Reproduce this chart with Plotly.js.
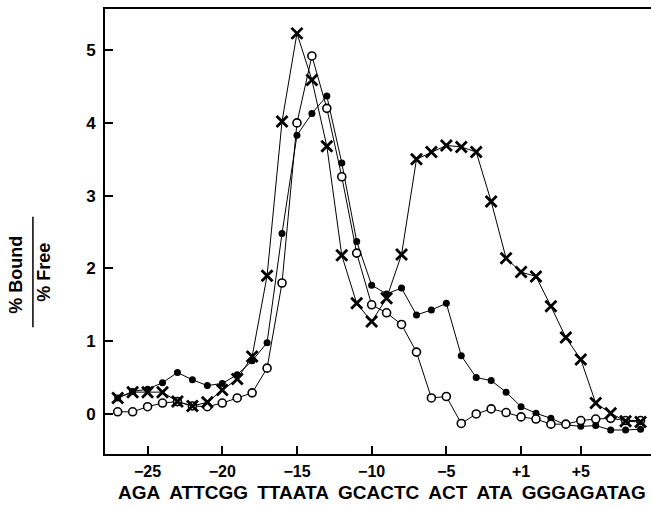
<!DOCTYPE html>
<html>
<head>
<meta charset="utf-8">
<script src="https://cdn.plot.ly/plotly-3.0.1.min.js"></script>
<style>
  html, body { margin: 0; padding: 0; background: #fff; }
  #chart { width: 651px; height: 506px; }
</style>
</head>
<body>
<div id="chart"></div>
<script>
// Sequence positions (no zero in DNA numbering)
const positions = [-27,-26,-25,-24,-23,-22,-21,-20,-19,-18,-17,-16,-15,-14,-13,-12,-11,-10,-9,-8,-7,-6,-5,-4,-3,-2,-1,1,2,3,4,5,6,7,8,9];
const sequenceGroups = ["AGA", "ATTCGG", "TTAATA", "GCACTC", "ACT", "ATA", "GGGAGATAG"];
const tickPositions = [-25, -20, -15, -10, -5, 1, 5];
const tickLabels = ["\u221225", "\u221220", "\u221215", "\u221210", "\u22125", "+1", "+5"];

// % Bound / % Free values
const crosses = [0.22,0.30,0.30,0.30,0.17,0.11,0.16,0.33,0.48,0.79,1.90,4.02,5.23,4.59,3.68,2.18,1.52,1.27,1.59,2.19,3.50,3.60,3.69,3.67,3.60,2.92,2.14,1.95,1.89,1.48,1.05,0.75,0.15,0.01,-0.10,-0.11];
const filled  = [0.22,0.31,0.34,0.43,0.57,0.47,0.39,0.42,0.54,0.73,0.98,2.48,3.83,4.13,4.37,3.45,2.37,1.77,1.65,1.73,1.36,1.43,1.52,0.80,0.50,0.46,0.30,0.10,0.01,-0.06,-0.15,-0.17,-0.16,-0.22,-0.22,-0.21];
const open    = [0.03,0.03,0.10,0.15,0.17,0.11,0.10,0.15,0.22,0.29,0.63,1.80,4.00,4.92,4.20,3.26,2.21,1.50,1.39,1.23,0.85,0.22,0.24,-0.13,0.00,0.07,0.02,-0.04,-0.07,-0.14,-0.14,-0.09,-0.07,-0.06,-0.09,-0.09];

const xIdx = positions.map((p, i) => i);
const tickVals = tickPositions.map(p => positions.indexOf(p));
const sequenceText = sequenceGroups.join("\u00a0\u2009");

const fontFam = "Liberation Sans, Arial, Helvetica, sans-serif";
const lineStyle = { color: "#000", width: 1 };

const traces = [
  {
    x: xIdx, y: filled, type: "scatter", mode: "lines+markers",
    line: lineStyle,
    marker: { symbol: "circle", size: 7, color: "#000" },
    cliponaxis: false
  },
  {
    x: xIdx, y: open, type: "scatter", mode: "lines+markers",
    line: lineStyle,
    marker: { symbol: "circle", size: 8, color: "#fff", line: { color: "#000", width: 1.6 } },
    cliponaxis: false
  },
  {
    x: xIdx, y: crosses, type: "scatter", mode: "lines+markers",
    line: lineStyle,
    marker: { symbol: "x-thin-open", size: 11, color: "#000", line: { color: "#000", width: 2.8 } },
    cliponaxis: false
  }
];

const layout = {
  width: 651, height: 506,
  margin: { l: 105, r: 0, t: 9, b: 52 },
  paper_bgcolor: "#fff", plot_bgcolor: "#fff",
  showlegend: false,
  font: { family: fontFam, color: "#000" },
  xaxis: {
    range: [-0.85, 35.7],
    showgrid: false, zeroline: false,
    showline: true, mirror: true, linecolor: "#000", linewidth: 2,
    ticks: "inside", ticklen: 8, tickwidth: 2, tickcolor: "#000",
    tickvals: tickVals, ticktext: tickLabels,
    tickfont: { family: fontFam, size: 16, weight: "bold", color: "#000" },
    ticklabelstandoff: 2
  },
  yaxis: {
    range: [-0.55, 5.565],
    showgrid: false, zeroline: false,
    showline: true, linecolor: "#000", linewidth: 2,
    ticks: "inside", ticklen: 8, tickwidth: 2, tickcolor: "#000",
    tickvals: [0, 1, 2, 3, 4, 5],
    tickfont: { family: fontFam, size: 17, weight: "bold", color: "#000" },
    ticklabelstandoff: 4
  },
  annotations: [
    {
      text: "% Bound", xref: "paper", yref: "paper",
      x: -0.162, y: 0.402, xanchor: "center", yanchor: "middle",
      textangle: -90, showarrow: false,
      font: { family: fontFam, size: 18, weight: "bold", color: "#000" }
    },
    {
      text: "% Free", xref: "paper", yref: "paper",
      x: -0.111, y: 0.408, xanchor: "center", yanchor: "middle",
      textangle: -90, showarrow: false,
      font: { family: fontFam, size: 18, weight: "bold", color: "#000" }
    },
    {
      text: sequenceText, xref: "paper", yref: "paper",
      x: 0.507, y: -0.086, xanchor: "center", yanchor: "middle",
      showarrow: false,
      font: { family: fontFam, size: 19, weight: "bold", color: "#000" }
    }
  ],
  shapes: [
    {
      type: "line", xref: "paper", yref: "paper",
      x0: -0.132, x1: -0.132, y0: 0.285, y1: 0.533,
      line: { color: "#000", width: 1.5 }
    }
  ]
};

Plotly.newPlot("chart", traces, layout, { staticPlot: true, displayModeBar: false });
</script>
</body>
</html>
